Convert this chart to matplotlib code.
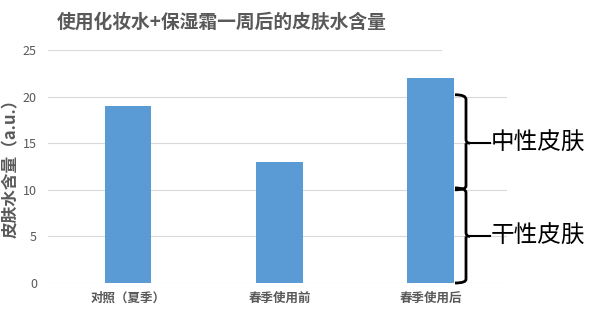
import matplotlib.pyplot as plt
import matplotlib.transforms as mtransforms
from matplotlib.path import Path
from matplotlib.patches import PathPatch

plt.rcParams['font.family'] = ['Noto Sans CJK SC', 'DejaVu Sans']

categories = ['对照（夏季）', '春季使用前', '春季使用后']
values = [19, 13, 22]
yticks = [0, 5, 10, 15, 20, 25]
brace_groups = [(10, 20, '中性皮肤'), (0, 10, '干性皮肤')]

gray = '#595959'
fig = plt.figure(figsize=(6, 3.23), dpi=100)
ax = fig.add_axes([48 / 600, 1 - 283 / 323, (507 - 48) / 600, (283 - 50) / 323])

x = range(len(categories))
ax.bar(x, values, width=0.31, color='#5B9BD5', zorder=3)
ax.set_xlim(-0.528, 2.502)
ax.set_ylim(0, 25)
ax.set_yticks(yticks)
ax.set_xticks(list(x))
ax.set_xticklabels(categories, fontsize=9, color=gray, fontweight='bold')
ax.tick_params(axis='y', labelsize=9, labelcolor=gray, length=0, pad=8)
ax.tick_params(axis='x', length=0, pad=6)
for s in ax.spines.values():
    s.set_visible(False)
for t in yticks:
    xmax = (441 - 48) / (507 - 48) if t == 25 else 1
    ax.axhline(t, xmax=xmax, color='#D9D9D9', lw=0.8, zorder=1)

ax.set_ylabel('皮肤水含量（a.u.）', fontsize=12, color=gray, fontweight='bold')
ax.yaxis.set_label_coords(-0.06, 0.51)
fig.text(222 / 600, 1 - 22 / 323, '使用化妆水+保湿霜一周后的皮肤水含量',
         fontsize=13.5, color=gray, ha='center', va='center', fontweight='bold')

# curly braces on the right
tr = mtransforms.blended_transform_factory(fig.transFigure, ax.transData)
px = 1 / 600
for lo, hi, label in brace_groups:
    mid = (lo + hi) / 2
    xl, xv, xm = 455 * px, 466 * px, 470 * px
    verts = [(xl, hi + 0.2), (xv, hi + 0.2), (xv, hi - 0.3),
             (xv, mid + 0.4), (xv, mid), (xm, mid),
             (xv, mid), (xv, mid - 0.4),
             (xv, lo + 0.4), (xv, lo), (xl, lo)]
    codes = [Path.MOVETO, Path.CURVE3, Path.CURVE3,
             Path.LINETO, Path.CURVE3, Path.CURVE3,
             Path.MOVETO, Path.LINETO,
             Path.LINETO, Path.CURVE3, Path.CURVE3]
    fig.add_artist(PathPatch(Path(verts, codes), transform=tr, fill=False,
                             lw=2, color='black', clip_on=False))
    fig.add_artist(plt.Line2D([xm, 490 * px], [mid, mid], transform=tr,
                              color='black', lw=1.5))
    fig.text(491 * px, mid, label, transform=tr, fontsize=17,
             color='black', ha='left', va='center', fontweight='medium')

fig.savefig('out.png', dpi=100)
